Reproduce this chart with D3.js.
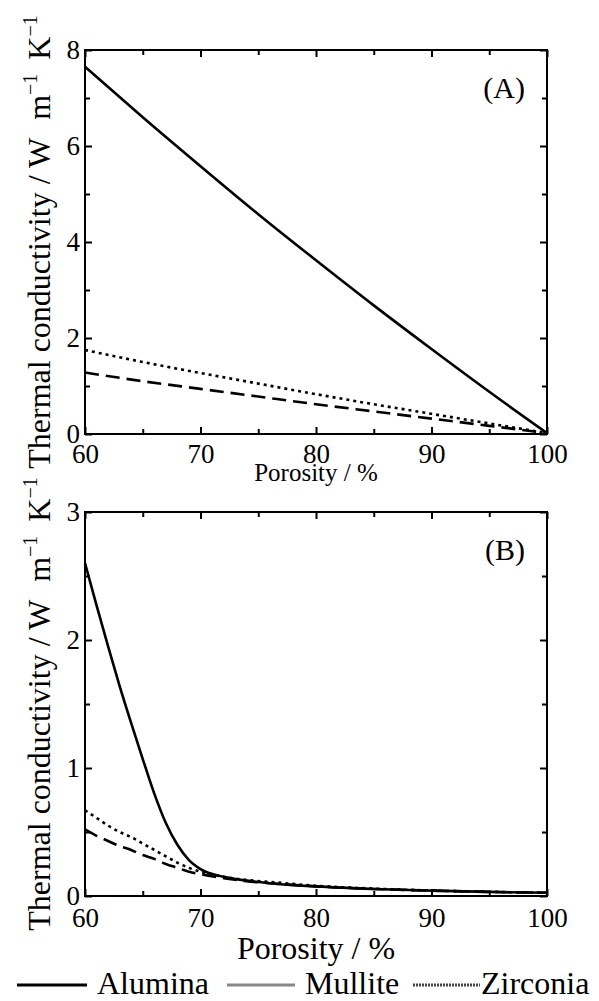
<!doctype html>
<html lang="en">
  <head>
    <meta charset="utf-8">
    <title>Thermal conductivity vs porosity</title>
    <script src="https://d3js.org/d3.v7.min.js"></script>
    <style>
    body { margin: 0; background: #fff; }
    svg { display: block; font-family: "Liberation Serif", "Times New Roman", serif; }
    .tick line { stroke: #000; stroke-width: 2; }
    .domain { display: none; }
    </style>
  </head>

  <body>
    <div id="chart">
      <svg width="599" height="1001"></svg>
    </div>

    <script>
      // panel A values
      var porosityA = [60, 65, 70, 75, 80, 85, 90, 95, 100];
      var aluminaA  = [7.65, 6.6, 5.58, 4.58, 3.62, 2.68, 1.77, 0.88, 0.02];
      var mulliteA  = [1.75, 1.5, 1.27, 1.05, 0.83, 0.62, 0.42, 0.22, 0.02];
      var zirconiaA = [1.28, 1.1, 0.94, 0.78, 0.62, 0.47, 0.32, 0.17, 0.02];

      // panel B values
      var porosityB = [60, 61, 62, 63, 64, 65, 66, 67, 68, 69, 70, 72, 74, 76, 80, 85, 90, 95, 100];
      var aluminaB  = [2.6, 2.27, 1.95, 1.64, 1.35, 1.07, 0.8, 0.57, 0.4, 0.28, 0.21, 0.15, 0.12, 0.1, 0.075, 0.055, 0.042, 0.032, 0.025];
      var mulliteB  = [0.67, 0.61, 0.55, 0.5, 0.46, 0.41, 0.36, 0.31, 0.26, 0.22, 0.19, 0.15, 0.125, 0.11, 0.08, 0.058, 0.043, 0.033, 0.025];
      var zirconiaB = [0.52, 0.47, 0.43, 0.39, 0.36, 0.32, 0.29, 0.25, 0.22, 0.19, 0.17, 0.14, 0.115, 0.1, 0.075, 0.055, 0.042, 0.032, 0.025];

      var xMajor = [60, 70, 80, 90, 100];
      var xMinor = [65, 75, 85, 95];
      var yMajorA = [0, 2, 4, 6, 8];
      var yMinorA = [1, 3, 5, 7];
      var yMajorB = [0, 1, 2, 3];
      var yMinorB = [0.5, 1.5, 2.5];

      var legendNames = ['Alumina', 'Mullite', 'Zirconia'];

      var serif = '"Liberation Serif", "Times New Roman", serif';
      var svg = d3.select('svg');
      svg.append('rect').attr('width', 599).attr('height', 1001).attr('fill', '#fff');

      var left = 85, right = 547;

      // d3 axes put sans-serif 10px on the group; switch the labels to the figure's serif
      function serifTicks(sel) {
        sel.attr('font-family', null).attr('font-size', null);
        sel.selectAll('text')
          .style('font-family', serif)
          .style('font-size', '27px')
          .attr('fill', '#000');
      }

      function drawPanel(opt) {
        var x = d3.scaleLinear().domain([60, 100]).range([left, right]);
        var y = d3.scaleLinear().domain(opt.yDomain).range([opt.bottom, opt.top]);
        var g = svg.append('g');

        // ticks, all pointing inward
        g.append('g').attr('transform', 'translate(0,' + opt.bottom + ')')
          .call(d3.axisBottom(x).tickValues(xMajor).tickSize(-7).tickSizeOuter(0).tickPadding(opt.xPad))
          .call(serifTicks);
        g.append('g').attr('transform', 'translate(0,' + opt.bottom + ')')
          .call(d3.axisBottom(x).tickValues(xMinor).tickSize(-5).tickSizeOuter(0).tickFormat(''));
        g.append('g').attr('transform', 'translate(0,' + opt.top + ')')
          .call(d3.axisTop(x).tickValues(xMajor).tickSize(-7).tickSizeOuter(0).tickFormat(''));
        g.append('g').attr('transform', 'translate(0,' + opt.top + ')')
          .call(d3.axisTop(x).tickValues(xMinor).tickSize(-5).tickSizeOuter(0).tickFormat(''));
        g.append('g').attr('transform', 'translate(' + left + ',0)')
          .call(d3.axisLeft(y).tickValues(opt.yMajor).tickSize(-7).tickSizeOuter(0).tickPadding(5).tickFormat(d3.format('d')))
          .call(serifTicks);
        g.append('g').attr('transform', 'translate(' + left + ',0)')
          .call(d3.axisLeft(y).tickValues(opt.yMinor).tickSize(-5).tickSizeOuter(0).tickFormat(''));
        g.append('g').attr('transform', 'translate(' + right + ',0)')
          .call(d3.axisRight(y).tickValues(opt.yMajor).tickSize(-7).tickSizeOuter(0).tickFormat(''));
        g.append('g').attr('transform', 'translate(' + right + ',0)')
          .call(d3.axisRight(y).tickValues(opt.yMinor).tickSize(-5).tickSizeOuter(0).tickFormat(''));

        // frame
        g.append('rect')
          .attr('x', left).attr('y', opt.top)
          .attr('width', right - left).attr('height', opt.bottom - opt.top)
          .attr('fill', 'none').attr('stroke', '#000').attr('stroke-width', 2);

        var line = d3.line()
          .x(function(d){ return x(d[0]); })
          .y(function(d){ return y(d[1]); })
          .curve(d3.curveMonotoneX);

        var series = [
          { values: opt.zirconia, dash: '14,7' },
          { values: opt.mullite, dash: '3,4' },
          { values: opt.alumina, dash: null }
        ];
        series.forEach(function(s){
          g.append('path')
            .datum(d3.zip(opt.porosity, s.values))
            .attr('d', line)
            .attr('fill', 'none')
            .attr('stroke', '#000')
            .attr('stroke-width', 2.6)
            .attr('stroke-dasharray', s.dash);
        });

        // panel letter
        g.append('text')
          .attr('x', 525).attr('y', opt.top + 48)
          .attr('text-anchor', 'end')
          .style('font-size', '30px')
          .text(opt.letter);

        // x title
        g.append('text')
          .attr('x', (left + right) / 2).attr('y', opt.xTitleY)
          .attr('text-anchor', 'middle')
          .style('font-size', opt.xTitleSize + 'px')
          .text('Porosity / %');

        // y title, rotated
        var t = g.append('text')
          .attr('transform', 'translate(50,' + ((opt.top + opt.bottom) / 2) + ') rotate(-90)')
          .attr('text-anchor', 'middle')
          .style('font-size', '32px');
        t.append('tspan').text('Thermal conductivity / W');
        t.append('tspan').attr('dx', 18).text('m');
        t.append('tspan').attr('dy', -13).style('font-size', '20px').text('\u22121');
        t.append('tspan').attr('dx', 14).attr('dy', 13).text('K');
        t.append('tspan').attr('dy', -13).style('font-size', '20px').text('\u22121');
      }

      drawPanel({
        top: 50, bottom: 434, yDomain: [0, 8],
        yMajor: yMajorA, yMinor: yMinorA, xPad: 10,
        porosity: porosityA, alumina: aluminaA, mullite: mulliteA, zirconia: zirconiaA,
        letter: '(A)', xTitleY: 481, xTitleSize: 25
      });

      drawPanel({
        top: 512, bottom: 896, yDomain: [0, 3],
        yMajor: yMajorB, yMinor: yMinorB, xPad: 12,
        porosity: porosityB, alumina: aluminaB, mullite: mulliteB, zirconia: zirconiaB,
        letter: '(B)', xTitleY: 959, xTitleSize: 32
      });

      // legend (styles as drawn in the source figure)
      var legendStyle = [
        { x1: 17, x2: 87, color: '#000', dash: null, width: 3 },
        { x1: 227, x2: 295, color: '#888', dash: null, width: 3 },
        { x1: 413, x2: 480, color: '#444', dash: '2,1', width: 3 }
      ];
      var leg = svg.append('g');
      legendNames.forEach(function(name, i){
        var s = legendStyle[i];
        leg.append('line')
          .attr('x1', s.x1).attr('x2', s.x2)
          .attr('y1', 985).attr('y2', 985)
          .attr('stroke', s.color).attr('stroke-width', s.width)
          .attr('stroke-dasharray', s.dash);
        leg.append('text')
          .attr('x', s.x2 + (i === 2 ? 1 : 10)).attr('y', 994)
          .style('font-size', '32px')
          .text(name);
      });
    </script>
  </body>
</html>
